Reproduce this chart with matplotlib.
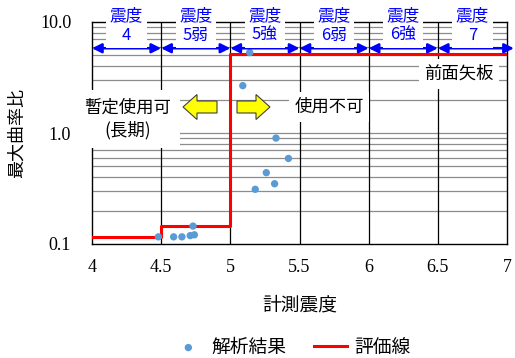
import matplotlib
matplotlib.use("Agg")
import matplotlib.pyplot as plt
import matplotlib.transforms as mtransforms
from matplotlib.patches import Polygon
import numpy as np

plt.rcParams['font.family'] = ['Noto Sans CJK JP', 'DejaVu Sans']

# ---- data ----
result_x = [4.48, 4.59, 4.65, 4.71, 4.74, 4.73, 5.09, 5.14, 5.18, 5.26, 5.32, 5.33, 5.42]
result_y = [0.116, 0.116, 0.116, 0.119, 0.121, 0.145, 2.67, 5.3, 0.311, 0.439, 0.349, 0.90, 0.59]
line_x = [4.0, 4.5, 5.0, 7.0]
line_y = [0.115, 0.145, 5.2, 5.2]
zone_edges = [4.0, 4.5, 5.0, 5.5, 6.0, 6.5, 7.0]
zone_labels = ["震度\n4", "震度\n5弱", "震度\n5強", "震度\n6弱", "震度\n6強", "震度\n7"]
zone_y = 5.8
xticks = [4, 4.5, 5, 5.5, 6, 6.5, 7]
xtick_labels = ["4", "4.5", "5", "5.5", "6", "6.5", "7"]
yticks = [0.1, 1.0, 10.0]
ytick_labels = ["0.1", "1.0", "10.0"]

W, H = 515, 358
fig = plt.figure(figsize=(W / 100, H / 100), dpi=100)
ax = fig.add_axes([92 / W, 1 - 244 / H, 415 / W, 222 / H])

ax.set_yscale('log')
ax.set_xlim(4, 7)
ax.set_ylim(0.1, 10)

# grid
for dec in [0.1, 1.0]:
    for m in range(2, 10):
        ax.axhline(dec * m, color='#8c8c8c', lw=0.9, zorder=1)
ax.axhline(1.0, color='#8c8c8c', lw=0.9, zorder=1)
for xv in xticks[1:-1]:
    ax.axvline(xv, color='black', lw=0.9, zorder=1)

ax.set_xticks(xticks)
ax.set_xticklabels(xtick_labels, fontfamily='Liberation Serif', fontsize=13)
ax.set_yticks(yticks)
ax.set_yticklabels(ytick_labels, fontfamily='Liberation Serif', fontsize=13)
ax.yaxis.set_minor_locator(matplotlib.ticker.NullLocator())
ax.tick_params(axis='x', length=0, pad=11)
ax.tick_params(axis='y', length=0, pad=15)
for s in ax.spines.values():
    s.set_color('black')
    s.set_linewidth(1.0)

# evaluation line
ax.step(line_x, line_y, where='post', color='#ff0000', lw=2.2, zorder=3, label='評価線')
# results
ax.scatter(result_x, result_y, s=28, color='#5B9BD5', zorder=4, label='解析結果', edgecolors='none')

# blue zone arrows
for a, b in zip(zone_edges[:-1], zone_edges[1:]):
    bb = b + 0.05 if b == zone_edges[-1] else b
    ax.annotate('', xy=(a, zone_y), xytext=(bb, zone_y),
                arrowprops=dict(arrowstyle='<|-|>', color='#0000ff', lw=1.8,
                                mutation_scale=14, shrinkA=0, shrinkB=0),
                zorder=5, annotation_clip=False)

trans = mtransforms.blended_transform_factory(ax.transData, ax.transAxes)
for a, b, lab in zip(zone_edges[:-1], zone_edges[1:], zone_labels):
    ax.text((a + b) / 2, (244 - 26) / 222, lab, transform=trans, ha='center', va='center',
            fontsize=12, color='#0000ff', linespacing=1.2, zorder=6, clip_on=False,
            bbox=dict(fc='white', ec='none', pad=2.5))


def fp(x, y):
    return (x / W, 1 - y / H)


ax.text(*fp(459, 74), "前面矢板", transform=fig.transFigure, ha='center', va='center',
        fontsize=12.5, zorder=6, bbox=dict(fc='white', ec='none', pad=4))
ax.text(*fp(329, 107), "使用不可", transform=fig.transFigure, ha='center', va='center',
        fontsize=12.5, zorder=6, bbox=dict(fc='white', ec='none', pad=4))
ax.text(*fp(128, 119), "暫定使用可\n(長期)", transform=fig.transFigure, ha='center', va='center',
        fontsize=12.5, zorder=6, linespacing=1.35, bbox=dict(fc='white', ec='none', pad=6))

# yellow block arrows
def block_arrow(x0, x1, yc, direction):
    sh = 6
    hh = 12.5
    hl = 14
    if direction == 'left':
        tip, base, end = x0, x0 + hl, x1
    else:
        tip, base, end = x1, x1 - hl, x0
    pts = [(tip, yc), (base, yc - hh), (base, yc - sh), (end, yc - sh),
           (end, yc + sh), (base, yc + sh), (base, yc + hh)]
    poly = Polygon([fp(px, py) for px, py in pts], closed=True, transform=fig.transFigure,
                   fc='#ffff00', ec='#404040', lw=0.8, zorder=7)
    fig.add_artist(poly)


block_arrow(183, 217, 107, 'left')
block_arrow(237, 270, 107, 'right')

ax.set_xlabel("計測震度", fontsize=13.5, labelpad=13)
ax.set_ylabel("最大曲率比", fontsize=13, labelpad=10)

handles, labels = ax.get_legend_handles_labels()
order = [labels.index('解析結果'), labels.index('評価線')]
leg = fig.legend([handles[i] for i in order], [labels[i] for i in order],
                 loc='center', bbox_to_anchor=(291 / W, 1 - 347 / H), ncol=2,
                 frameon=False, fontsize=13.5, handlelength=1.75, columnspacing=1.5,
                 handletextpad=0.35)

fig.savefig("out.png", dpi=100)
